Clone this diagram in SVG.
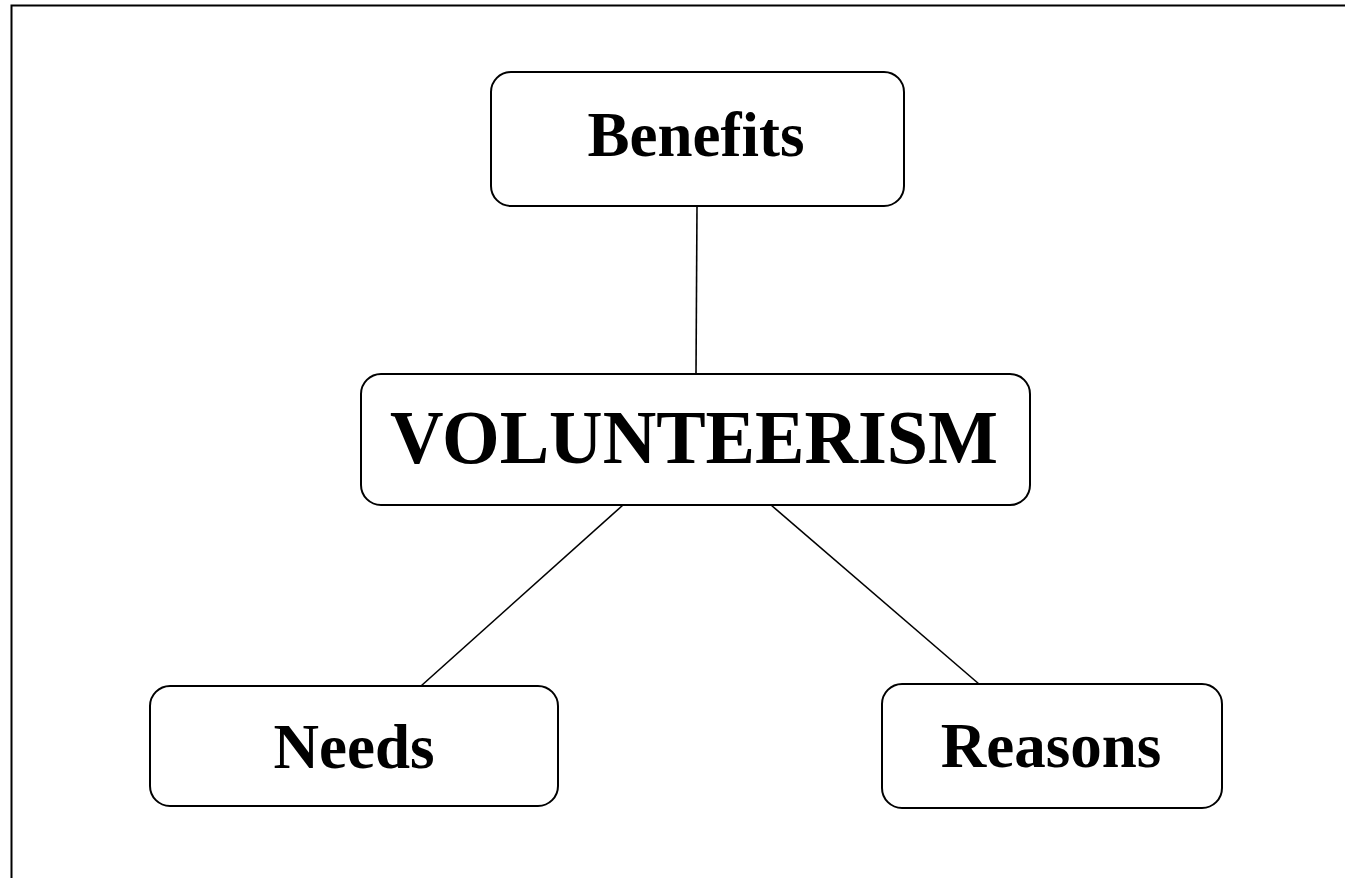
<svg xmlns="http://www.w3.org/2000/svg" width="1345" height="878" viewBox="0 0 1345 878">
  <style>
    .frame { fill: none; stroke: #000; stroke-width: 2; }
    .box { fill: #fff; stroke: #000; stroke-width: 2; }
    .label { font-family: "Liberation Serif", "Times New Roman", serif; font-weight: bold; fill: #000; text-anchor: middle; }
    .link { stroke: #000; stroke-width: 1.6; fill: none; }
  </style>
  <rect x="0" y="0" width="1345" height="878" fill="#fff"/>
  <!-- page frame: top and left edges -->
  <path class="frame" d="M11.5,878 V5.5 H1345"/>

  <g id="connectors">
    <line class="link" x1="697" y1="206" x2="696" y2="374"/>
    <line class="link" x1="623" y1="505" x2="421" y2="686"/>
    <line class="link" x1="771" y1="505" x2="979" y2="684"/>
  </g>

  <g id="benefits">
    <rect class="box" x="491" y="72" width="413" height="134" rx="20" ry="20"/>
    <text class="label" x="696" y="156" font-size="63">Benefits</text>
  </g>

  <g id="volunteerism">
    <rect class="box" x="361" y="374" width="669" height="131" rx="20" ry="20"/>
    <text class="label" x="694" y="463" font-size="76" textLength="608" lengthAdjust="spacingAndGlyphs">VOLUNTEERISM</text>
  </g>

  <g id="needs">
    <rect class="box" x="150" y="686" width="408" height="120" rx="20" ry="20"/>
    <text class="label" x="354" y="768" font-size="63">Needs</text>
  </g>

  <g id="reasons">
    <rect class="box" x="882" y="684" width="340" height="124" rx="20" ry="20"/>
    <text class="label" x="1051" y="767" font-size="63">Reasons</text>
  </g>
</svg>
